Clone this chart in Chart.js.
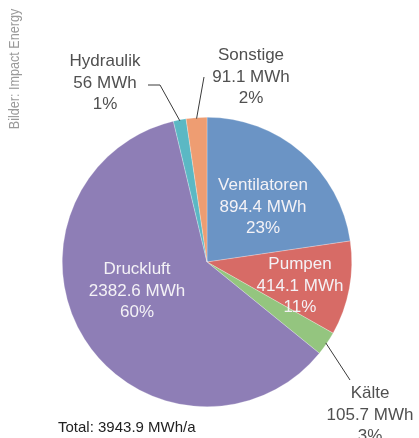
<!DOCTYPE html>
<html lang="de">
<head>
    <meta charset="UTF-8">
    <title>Energieverbrauch</title>
    <script src="https://cdn.jsdelivr.net/npm/chart.js"></script>
    <style>
        body { margin: 0; background: #fff; }
    </style>
</head>
<body>
    <canvas id="pieChart" width="419" height="438"></canvas>
    <script>
        // data (clockwise from 12 o'clock)
        const categories = ['Ventilatoren', 'Pumpen', 'Kälte', 'Druckluft', 'Hydraulik', 'Sonstige'];
        const valuesMWh = [894.4, 414.1, 105.7, 2382.6, 56, 91.1];
        const valueLabels = ['894.4 MWh', '414.1 MWh', '105.7 MWh', '2382.6 MWh', '56 MWh', '91.1 MWh'];
        const percentLabels = ['23%', '11%', '3%', '60%', '1%', '2%'];
        const totalLabel = 'Total: 3943.9 MWh/a';
        const creditLabel = 'Bilder: Impact Energy';

        const colors = ['#6b94c5', '#d76b66', '#94c57f', '#8e7eb6', '#5bb8c4', '#ee9d72'];

        // label layout: offset of middle line from pie centre, inside or outside
        const labelPos = [
            { dx: 56, dy: -55, inside: true },
            { dx: 93, dy: 24, inside: true },
            { dx: 163, dy: 153, inside: false, line: [[350, 380]] },
            { dx: -70, dy: 29, inside: true },
            { dx: -102, dy: -179, inside: false, line: [[160, 85], [148, 85]] },
            { dx: 44, dy: -185, inside: false, line: [[204, 77]] }
        ];

        const labelPlugin = {
            id: 'sliceLabels',
            afterDraw(chart) {
                const ctx = chart.ctx;
                const arcs = chart.getDatasetMeta(0).data;
                ctx.save();
                arcs.forEach((arc, i) => {
                    const p = arc.getProps(['x', 'y', 'startAngle', 'endAngle', 'outerRadius'], true);
                    const pos = labelPos[i];
                    const cx = p.x + pos.dx;
                    const cy = p.y + pos.dy;
                    // leader line
                    if (pos.line) {
                        const mid = (p.startAngle + p.endAngle) / 2;
                        ctx.beginPath();
                        ctx.strokeStyle = '#3a3a3a';
                        ctx.lineWidth = 1;
                        ctx.moveTo(p.x + Math.cos(mid) * (p.outerRadius - 1), p.y + Math.sin(mid) * (p.outerRadius - 1));
                        pos.line.forEach(pt => ctx.lineTo(pt[0], pt[1]));
                        ctx.stroke();
                    }
                    ctx.fillStyle = pos.inside ? '#f4f2f6' : '#505050';
                    ctx.font = '17px "Liberation Sans", Arial, sans-serif';
                    ctx.textAlign = 'center';
                    ctx.textBaseline = 'middle';
                    const lines = [categories[i], valueLabels[i], percentLabels[i]];
                    lines.forEach((t, k) => ctx.fillText(t, cx, cy + (k - 1) * 21.5));
                });

                // total
                ctx.fillStyle = '#222';
                ctx.font = '15px "Liberation Sans", Arial, sans-serif';
                ctx.textAlign = 'left';
                ctx.fillText(totalLabel, 58, 428);

                // credit, rotated and condensed
                ctx.translate(15, 69);
                ctx.rotate(-Math.PI / 2);
                ctx.scale(0.84, 1);
                ctx.fillStyle = '#9a9a9a';
                ctx.font = '15px "Liberation Sans", sans-serif';
                ctx.textAlign = 'center';
                ctx.fillText(creditLabel, 0, 0);
                ctx.restore();
            }
        };

        const ctx = document.getElementById('pieChart').getContext('2d');
        new Chart(ctx, {
            type: 'pie',
            data: {
                labels: categories,
                datasets: [{
                    data: valuesMWh,
                    backgroundColor: colors,
                    borderColor: 'rgba(255,255,255,0.5)',
                    borderWidth: 0.5
                }]
            },
            options: {
                responsive: false,
                animation: false,
                events: [],
                layout: {
                    padding: { left: 62, right: 67, top: 117, bottom: 31 }
                },
                plugins: {
                    legend: { display: false },
                    tooltip: { enabled: false }
                }
            },
            plugins: [labelPlugin]
        });
    </script>
</body>
</html>
